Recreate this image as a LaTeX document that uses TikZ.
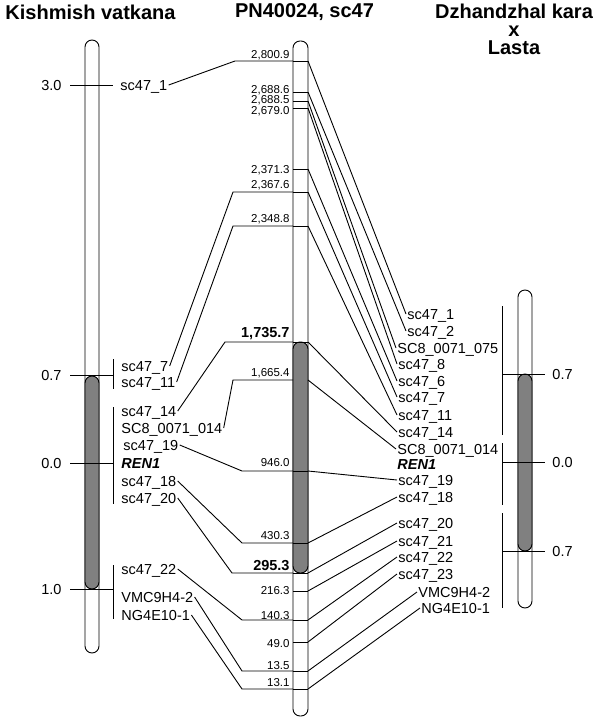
\documentclass[tikz,border=0pt]{standalone}
\usepackage{fontspec}
\setmainfont{Liberation Sans}

\definecolor{band}{RGB}{128,128,128}
\tikzset{
	Chrom/.style = {draw, line width=0.9pt, rounded corners=7pt, fill=white},
	Band/.style = {draw, line width=0.9pt, rounded corners=7pt, fill=band},
	Mark/.style = {font=\fontsize{14.5}{15}\selectfont, inner sep=1pt, text height=10pt, text depth=0pt},
	Pos/.style = {font=\fontsize{11.5}{12}\selectfont, inner sep=1pt, text height=8pt, text depth=0pt, anchor=east},
	Big/.style = {font=\fontsize{14.5}{15}\selectfont\bfseries, inner sep=1pt, text height=10.4pt, text depth=0pt, anchor=east},
	Head/.style = {font=\fontsize{20}{18}\selectfont\bfseries, align=center, inner sep=0pt},
}

\begin{document}
\begin{tikzpicture}[x=1pt, y=-1pt, line width=0.9pt]
	\useasboundingbox (0,0) rectangle (600,718);
		\node[Head] (HK) at (90.5,12) {Kishmish vatkana};
		\node[Head] (HP) at (304.5,12) {PN40024, sc47};
		\node[Head] (HD) at (514,29) {Dzhandzhal kara\\x\\Lasta};

	% Kishmish vatkana
	\begin{scope}
		\draw[Chrom] (85,40) rectangle (99,653);
		\draw[Band] (85,376) rectangle (99,589);
		\foreach \y/\t [count=\i] in {85/3.0, 375/0.7, 463/0.0, 589/1.0} {
			\draw (70,\y) -- (113,\y);
			\node[Mark, anchor=east] (KS\i) at (63,\y) {\t};
		}
		\draw (113,359) -- (113,389);
		\draw (113,407) -- (113,504);
		\draw (113,565) -- (113,619);
	\end{scope}
	\begin{scope}[Mark/.append style = {anchor=west}]
		\node[Mark] (K1) at (119,85) {sc47\_1};
		\node[Mark] (K2) at (120,366) {sc47\_7};
		\node[Mark] (K3) at (120,382) {sc47\_11};
		\node[Mark] (K4) at (120,411) {sc47\_14};
		\node[Mark] (K5) at (120,428) {SC8\_0071\_014};
		\node[Mark] (K6) at (122,445) {sc47\_19};
		\node[Mark, font=\fontsize{14.5}{15}\selectfont\bfseries\itshape] (K7) at (120,463) {REN1};
		\node[Mark] (K8) at (120,481) {sc47\_18};
		\node[Mark] (K9) at (120,498) {sc47\_20};
		\node[Mark] (K10) at (120,569) {sc47\_22};
		\node[Mark] (K11) at (120,597) {VMC9H4-2};
		\node[Mark] (K12) at (120,615) {NG4E10-1};
	\end{scope}

	% PN40024, sc47
	\begin{scope}
		\draw[Chrom] (293,41) rectangle (308,716);
		\draw[Band] (293,342) rectangle (308,573);
		\foreach \y [count=\i] in {61,92,101,108,169,192,226,342,380,471,543,573,591,620,642,671,689} {
			\coordinate (W\i) at (293,\y);
			\coordinate (E\i) at (308,\y);
		}
		\foreach \i in {1,...,8,10,11,...,17}
			\draw (W\i) -- (E\i);
		\node[Pos] (P1) at (291,54) {2,800.9};
		\node[Pos] (P2) at (291,89) {2,688.6};
		\node[Pos] (P3) at (291,99.5) {2,688.5};
		\node[Pos] (P4) at (291,110) {2,679.0};
		\node[Pos] (P5) at (291,169) {2,371.3};
		\node[Pos] (P6) at (291,184) {2,367.6};
		\node[Pos] (P7) at (291,218) {2,348.8};
		\node[Big] (P8) at (291,332) {1,735.7};
		\node[Pos] (P9) at (291,372.5) {1,665.4};
		\node[Pos] (P10) at (291,462.5) {946.0};
		\node[Pos] (P11) at (291,535.5) {430.3};
		\node[Big] (P12) at (291,565) {295.3};
		\node[Pos] (P13) at (291,590) {216.3};
		\node[Pos] (P14) at (291,615) {140.3};
		\node[Pos] (P15) at (291,643) {49.0};
		\node[Pos] (P16) at (291,665) {13.5};
		\node[Pos] (P17) at (291,682.5) {13.1};
	\end{scope}

	% Dzhandzhal kara x Lasta
	\begin{scope}
		\draw[Chrom] (518,290) rectangle (532,608);
		\draw[Band] (518,374) rectangle (532,551);
		\foreach \y/\t [count=\i] in {374/0.7, 462/0.0, 551/0.7} {
			\draw (503,\y) -- (545,\y);
			\node[Mark, anchor=west] (DS\i) at (551,\y) {\t};
		}
		\draw (502,306) -- (502,435);
		\draw (502,443) -- (502,505);
		\draw (502,513) -- (502,608);
	\end{scope}
	\begin{scope}[Mark/.append style = {anchor=west}]
		\node[Mark] (D1) at (406,314) {sc47\_1};
		\node[Mark] (D2) at (406,331) {sc47\_2};
		\node[Mark] (D3) at (396,348) {SC8\_0071\_075};
		\node[Mark] (D4) at (397,364) {sc47\_8};
		\node[Mark] (D5) at (397,381) {sc47\_6};
		\node[Mark] (D6) at (397,397) {sc47\_7};
		\node[Mark] (D7) at (397,415) {sc47\_11};
		\node[Mark] (D8) at (397,432) {sc47\_14};
		\node[Mark] (D9) at (396,449) {SC8\_0071\_014};
		\node[Mark, font=\fontsize{14.5}{15}\selectfont\bfseries\itshape] (D10) at (396,464) {REN1};
		\node[Mark] (D11) at (397,480) {sc47\_19};
		\node[Mark] (D12) at (397,497) {sc47\_18};
		\node[Mark] (D13) at (397,523) {sc47\_20};
		\node[Mark] (D14) at (397,541) {sc47\_21};
		\node[Mark] (D15) at (397,557) {sc47\_22};
		\node[Mark] (D16) at (397,574) {sc47\_23};
		\node[Mark] (D17) at (417,592) {VMC9H4-2};
		\node[Mark] (D18) at (420,608) {NG4E10-1};
	\end{scope}

	% links
		\foreach \k/\i/\d in {K1/1/58, K2/6/60, K3/7/60, K4/8/68, K5/9/60, K6/10/51, K8/11/51, K9/12/61, K10/14/51, K11/16/51, K12/17/51}
			\draw (\k.east) -- ([xshift=-\d pt]W\i) -- (W\i);
		\foreach \i/\d in {1/1, 2/2, 3/3, 4/4, 5/5, 6/6, 7/7, 8/8, 9/9, 10/11, 11/12, 12/13, 13/14, 14/15, 15/16, 16/17, 17/18}
			\draw (E\i) -- (D\d.west);
	\end{tikzpicture}
\end{document}
